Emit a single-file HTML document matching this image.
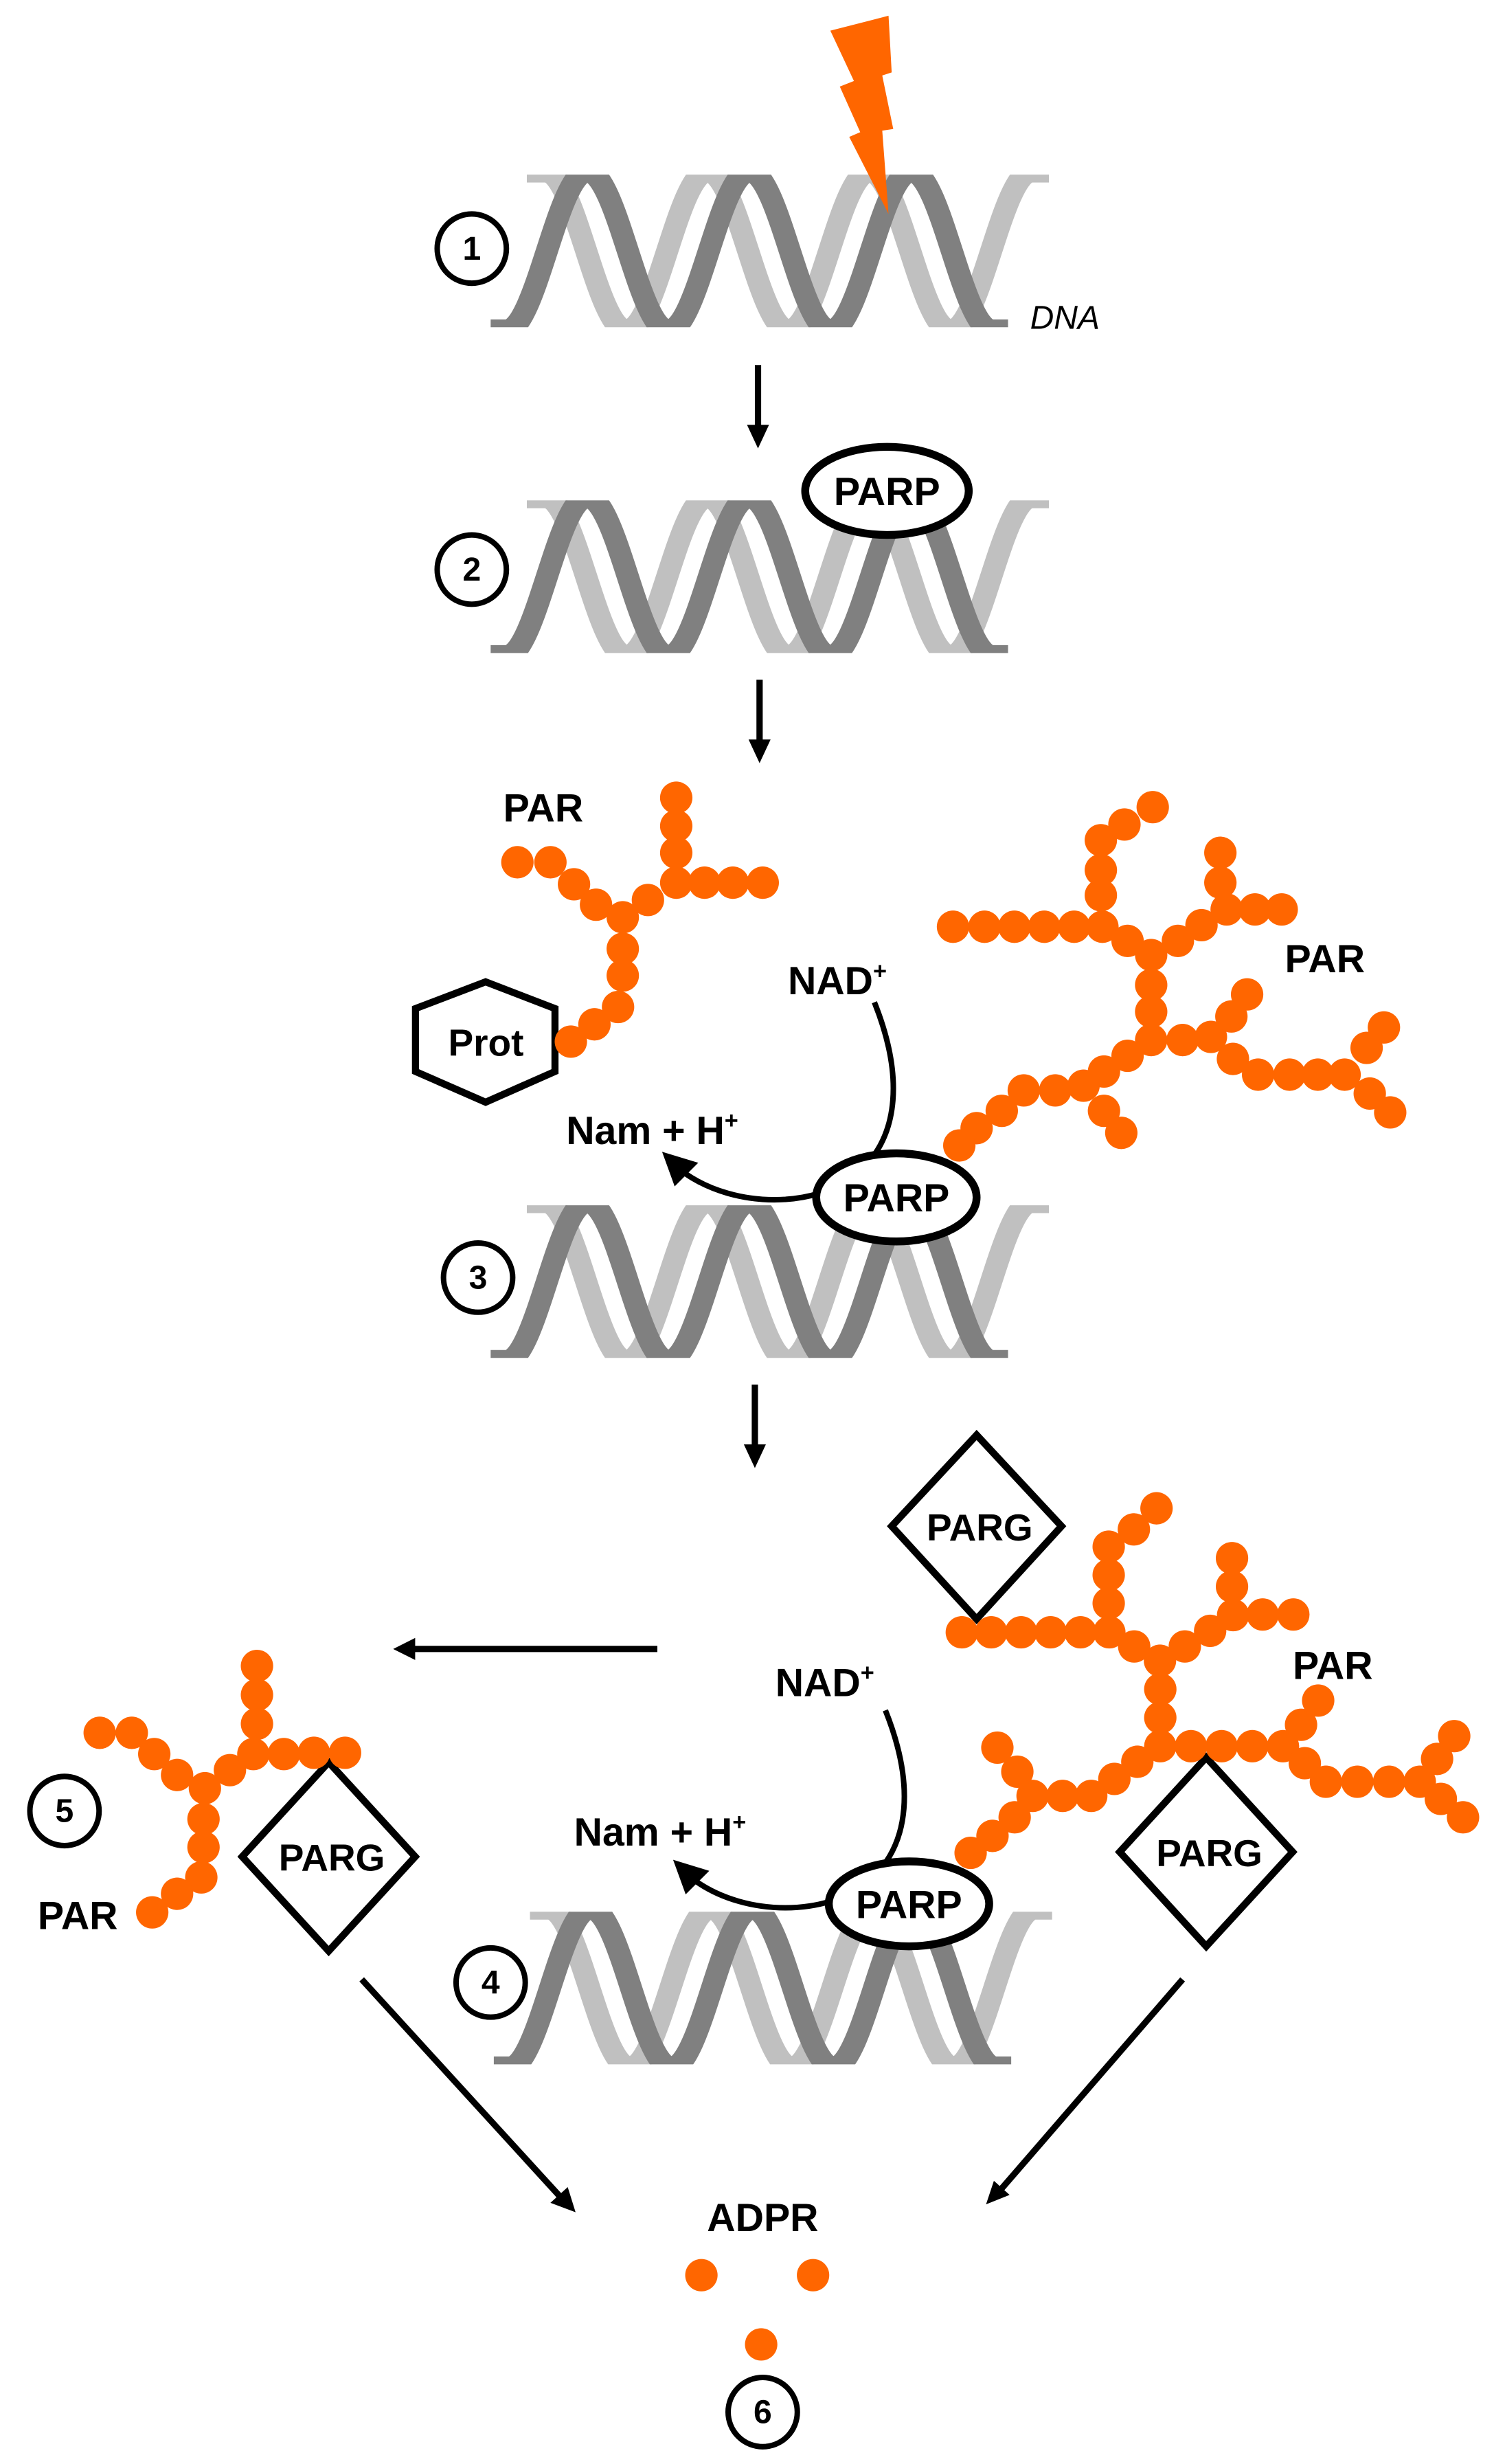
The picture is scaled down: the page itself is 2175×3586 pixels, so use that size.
<!DOCTYPE html>
<html><head><meta charset="utf-8"><style>
html,body{margin:0;padding:0;background:#fff}
svg{display:block}
text{font-family:"Liberation Sans",Arial,sans-serif;font-weight:bold;fill:#000}
</style></head><body>
<svg xmlns="http://www.w3.org/2000/svg" width="2175" height="3586" viewBox="0 0 950 1566" preserveAspectRatio="none">
<defs>
<clipPath id="hc"><rect x="300" y="111" width="380" height="97"/></clipPath>
<g id="helix">
<g clip-path="url(#hc)" fill="none" stroke-width="14">
<path stroke="#C0C0C0" d="M335 109 L347 109 C365.76 109 379.74 210 398.5 210 S 431.24 109 450 109 S 482.74 210 501.5 210 S 534.24 109 553 109 S 585.74 210 604.5 210 S 637.24 109 656 109 L667 109"/>
<path stroke="#808080" d="M312 210 L322 210 C340.76 210 354.74 109 373.5 109 S 406.24 210 425 210 S 457.74 109 476.5 109 S 509.24 210 528 210 S 560.74 109 579.5 109 S 612.24 210 631 210 L641 210"/>
</g>
</g>
</defs>
<rect width="950" height="1566" fill="#fff"/>

<use href="#helix"/>
<use href="#helix" transform="translate(0,207)"/>
<use href="#helix" transform="translate(0,655)"/>
<use href="#helix" transform="translate(2,1104)"/>

<polygon fill="#FF6600" points="528,19.5 565,10 567,46 561,48 568,82 561,83 565,136 540,87 547,84 534,55 543,51.5"/>
<text x="655" y="209" font-size="21" style="font-style:italic;font-weight:normal">DNA</text>

<g fill="none" stroke="#000" stroke-width="3.5">
<circle cx="300" cy="158" r="22"/>
<circle cx="300" cy="362" r="22"/>
<circle cx="304" cy="812" r="22"/>
<circle cx="312" cy="1260" r="22"/>
<circle cx="41" cy="1151" r="22"/>
<circle cx="485" cy="1533" r="22"/>
</g>
<g font-size="21" text-anchor="middle">
<text x="300" y="165">1</text>
<text x="300" y="369">2</text>
<text x="304" y="819">3</text>
<text x="312" y="1267">4</text>
<text x="41" y="1158">5</text>
<text x="485" y="1540">6</text>
</g>

<g stroke="#000" stroke-width="4">
<line x1="482" y1="232" x2="482" y2="272"/>
<line x1="483" y1="432" x2="483" y2="472"/>
<line x1="480" y1="880" x2="480" y2="920"/>
<line x1="418" y1="1048" x2="262" y2="1048"/>
<line x1="230" y1="1258" x2="357" y2="1397"/>
<line x1="752" y1="1258" x2="636" y2="1392"/>
</g>
<g fill="#000">
<polygon points="475,270 489,270 482,285"/>
<polygon points="476,470 490,470 483,485"/>
<polygon points="473,918 487,918 480,933"/>
<polygon points="250,1048 264,1041 264,1055"/>
<polygon points="366,1406 350,1400 361,1390"/>
<polygon points="627,1401 632,1386 642,1395"/>
</g>

<!-- arcs (behind PARP) -->
<g fill="none" stroke="#000" stroke-width="3.5">
<path d="M556 637 C574 682, 573 722, 545 746 C518 768, 468 768, 436 746"/>
<path d="M563 1087 C581 1132, 580 1172, 552 1196 C525 1218, 475 1218, 443 1196"/>
</g>
<g fill="#000">
<polygon points="421,732 429,754 444,739"/>
<polygon points="428,1182 436,1204 451,1189"/>
</g>

<g fill="#fff" stroke="#000" stroke-width="5">
<ellipse cx="564" cy="312" rx="52" ry="28"/>
<ellipse cx="570" cy="761" rx="51" ry="28"/>
<ellipse cx="578" cy="1210" rx="51" ry="27"/>
</g>
<g font-size="25" text-anchor="middle">
<text x="564" y="321">PARP</text>
<text x="570" y="770">PARP</text>
<text x="578" y="1219">PARP</text>
</g>

<polygon fill="none" stroke="#000" stroke-width="4.5" points="308.8,624 352.9,641 352.9,681 308.8,700.5 264.2,681 264.2,641"/>
<text x="309" y="671" font-size="24" text-anchor="middle">Prot</text>

<g font-size="25">
<text x="501" y="632">NAD<tspan font-size="15" dy="-10">+</tspan></text>
<text x="360" y="727">Nam + H<tspan font-size="15" dy="-10">+</tspan></text>
<text x="493" y="1078">NAD<tspan font-size="15" dy="-10">+</tspan></text>
<text x="365" y="1173">Nam + H<tspan font-size="15" dy="-10">+</tspan></text>
<text x="320" y="522">PAR</text>
<text x="817" y="618">PAR</text>
<text x="822" y="1067">PAR</text>
<text x="24" y="1226">PAR</text>
<text x="485" y="1418" text-anchor="middle">ADPR</text>
</g>

<g fill="#fff" stroke="#000" stroke-width="4.5">
<polygon points="621,912 675,970 621,1029 567,970"/>
<polygon points="209,1120 264,1180 209,1240 154,1180"/>
<polygon points="767,1117 822,1177 767,1237 712,1177"/>
</g>
<g font-size="24" text-anchor="middle">
<text x="623" y="979">PARG</text>
<text x="211" y="1189">PARG</text>
<text x="769" y="1186">PARG</text>
</g>

<g fill="#FF6600">
<circle cx="329" cy="548" r="10.3"/><circle cx="350" cy="548" r="10.3"/><circle cx="365" cy="562" r="10.3"/><circle cx="379" cy="575" r="10.3"/><circle cx="396" cy="583" r="10.3"/><circle cx="396" cy="603" r="10.3"/><circle cx="396" cy="620" r="10.3"/><circle cx="393" cy="640" r="10.3"/><circle cx="378" cy="651" r="10.3"/><circle cx="363" cy="662" r="10.3"/><circle cx="430" cy="507" r="10.3"/><circle cx="430" cy="525" r="10.3"/><circle cx="430" cy="542" r="10.3"/><circle cx="430" cy="561" r="10.3"/><circle cx="412" cy="572" r="10.3"/><circle cx="448" cy="561" r="10.3"/><circle cx="466" cy="561" r="10.3"/><circle cx="485" cy="561" r="10.3"/>
<circle cx="606" cy="589" r="10.3"/><circle cx="626" cy="589" r="10.3"/><circle cx="645" cy="589" r="10.3"/><circle cx="664" cy="589" r="10.3"/><circle cx="683" cy="589" r="10.3"/><circle cx="701" cy="589" r="10.3"/>
<circle cx="700" cy="569" r="10.3"/><circle cx="700" cy="553" r="10.3"/><circle cx="700" cy="534" r="10.3"/><circle cx="715" cy="524" r="10.3"/><circle cx="733" cy="513" r="10.3"/>
<circle cx="717" cy="598" r="10.3"/><circle cx="732" cy="607" r="10.3"/><circle cx="749" cy="598" r="10.3"/><circle cx="764" cy="588" r="10.3"/><circle cx="780" cy="578" r="10.3"/><circle cx="776" cy="561" r="10.3"/><circle cx="776" cy="542" r="10.3"/><circle cx="798" cy="578" r="10.3"/><circle cx="815" cy="578" r="10.3"/>
<circle cx="732" cy="626" r="10.3"/><circle cx="732" cy="643" r="10.3"/><circle cx="732" cy="661" r="10.3"/>
<circle cx="752" cy="661" r="10.3"/><circle cx="770" cy="659" r="10.3"/><circle cx="783" cy="646" r="10.3"/><circle cx="793" cy="632" r="10.3"/>
<circle cx="784" cy="673" r="10.3"/><circle cx="800" cy="683" r="10.3"/><circle cx="820" cy="683" r="10.3"/><circle cx="838" cy="683" r="10.3"/><circle cx="855" cy="683" r="10.3"/><circle cx="869" cy="666" r="10.3"/><circle cx="880" cy="653" r="10.3"/><circle cx="871" cy="695" r="10.3"/><circle cx="884" cy="707" r="10.3"/>
<circle cx="717" cy="671" r="10.3"/><circle cx="702" cy="681" r="10.3"/><circle cx="689" cy="690" r="10.3"/><circle cx="671" cy="693" r="10.3"/><circle cx="651" cy="693" r="10.3"/><circle cx="637" cy="706" r="10.3"/><circle cx="621" cy="717" r="10.3"/><circle cx="610" cy="728" r="10.3"/><circle cx="702" cy="706" r="10.3"/><circle cx="713" cy="720" r="10.3"/>
<circle cx="611.6" cy="1037.4" r="10.3"/><circle cx="630.3" cy="1037.4" r="10.3"/><circle cx="649.3" cy="1037.4" r="10.3"/><circle cx="668.1" cy="1037.4" r="10.3"/><circle cx="687.1" cy="1037.4" r="10.3"/><circle cx="705.4" cy="1037.4" r="10.3"/>
<circle cx="705" cy="1019" r="10.3"/><circle cx="705" cy="1001" r="10.3"/><circle cx="705" cy="983" r="10.3"/><circle cx="721" cy="972" r="10.3"/><circle cx="735.4" cy="958.6" r="10.3"/>
<circle cx="721.2" cy="1046.4" r="10.3"/><circle cx="737.6" cy="1055.5" r="10.3"/><circle cx="753.4" cy="1046.4" r="10.3"/><circle cx="769.5" cy="1036.5" r="10.3"/><circle cx="784.1" cy="1026.5" r="10.3"/><circle cx="783.4" cy="1008.4" r="10.3"/><circle cx="783.4" cy="990.3" r="10.3"/><circle cx="802.9" cy="1026.1" r="10.3"/><circle cx="822.4" cy="1026.1" r="10.3"/>
<circle cx="737.8" cy="1073.6" r="10.3"/><circle cx="737.8" cy="1091.7" r="10.3"/><circle cx="737.8" cy="1109.8" r="10.3"/>
<circle cx="757.3" cy="1109.8" r="10.3"/><circle cx="776.8" cy="1109.8" r="10.3"/><circle cx="796.3" cy="1109.8" r="10.3"/><circle cx="815.8" cy="1109.8" r="10.3"/>
<circle cx="827.3" cy="1096.2" r="10.3"/><circle cx="838.2" cy="1080.8" r="10.3"/>
<circle cx="829.7" cy="1120.6" r="10.3"/><circle cx="843.1" cy="1132.4" r="10.3"/><circle cx="863.1" cy="1132.4" r="10.3"/><circle cx="883.3" cy="1132.4" r="10.3"/><circle cx="902.8" cy="1132.4" r="10.3"/><circle cx="913.8" cy="1117.9" r="10.3"/><circle cx="924.7" cy="1103.4" r="10.3"/><circle cx="916.2" cy="1143.3" r="10.3"/><circle cx="930.3" cy="1155" r="10.3"/>
<circle cx="723.2" cy="1119.7" r="10.3"/><circle cx="708.6" cy="1130.6" r="10.3"/><circle cx="693.9" cy="1141.4" r="10.3"/><circle cx="675.7" cy="1141.4" r="10.3"/><circle cx="656.6" cy="1141.4" r="10.3"/><circle cx="646.9" cy="1126" r="10.3"/><circle cx="634.2" cy="1110.7" r="10.3"/><circle cx="645.2" cy="1155" r="10.3"/><circle cx="631.1" cy="1166.8" r="10.3"/><circle cx="617.2" cy="1177.6" r="10.3"/>
<circle cx="63.4" cy="1101.3" r="10.3"/><circle cx="83.8" cy="1101.3" r="10.3"/><circle cx="98.1" cy="1114.8" r="10.3"/><circle cx="112.6" cy="1128.1" r="10.3"/><circle cx="130.3" cy="1136.5" r="10.3"/><circle cx="146.2" cy="1125" r="10.3"/><circle cx="161.1" cy="1114.8" r="10.3"/><circle cx="163.4" cy="1095.6" r="10.3"/><circle cx="163.4" cy="1077.2" r="10.3"/><circle cx="163.4" cy="1058.8" r="10.3"/><circle cx="180.5" cy="1114.8" r="10.3"/><circle cx="199.6" cy="1114" r="10.3"/><circle cx="219.4" cy="1114" r="10.3"/><circle cx="129.4" cy="1156.1" r="10.3"/><circle cx="129.4" cy="1174" r="10.3"/><circle cx="128" cy="1193.2" r="10.3"/><circle cx="112.6" cy="1203.6" r="10.3"/><circle cx="96.8" cy="1215.4" r="10.3"/>
<circle cx="446" cy="1446" r="10.3"/><circle cx="517" cy="1446" r="10.3"/><circle cx="484" cy="1490" r="10.3"/>
</g>
</svg>
</body></html>
